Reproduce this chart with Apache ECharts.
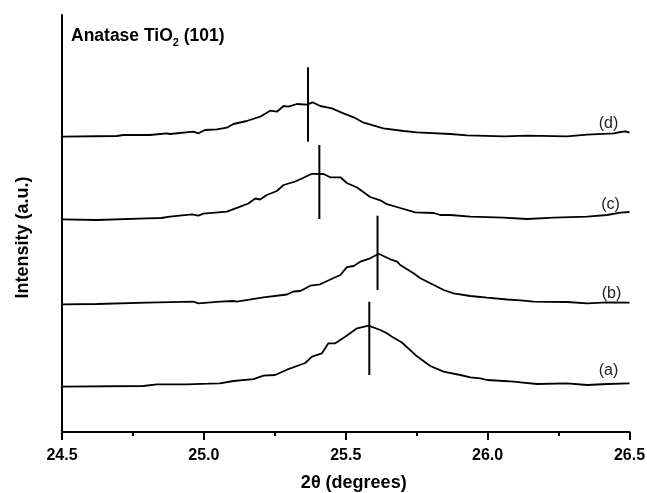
<!DOCTYPE html>
<html>
<head>
<meta charset="utf-8">
<script src="https://cdn.jsdelivr.net/npm/echarts@6/dist/echarts.min.js"></script>
<style>html,body{margin:0;padding:0;background:#fff}#c{width:647px;height:493px}</style>
</head>
<body>
<div id="c"></div>
<script>
// 2θ (degrees) and intensity (a.u., stacked with offsets as in the figure)
var curveA = [[24.50,45.3],[24.787,46],[24.834,47.7],[24.94,47.7],[25.016,48.3],[25.057,48.7],[25.104,51],[25.175,52.8],[25.21,56.3],[25.251,57],[25.293,62.3],[25.357,69],[25.381,75.3],[25.416,78.7],[25.439,88.7],[25.463,88.7],[25.498,95.2],[25.54,103.7],[25.58,106.3],[25.622,102],[25.645,98.7],[25.663,95.3],[25.698,89.5],[25.751,75.7],[25.798,66],[25.845,60.3],[25.857,59.7],[25.904,57],[25.939,54.7],[25.974,53.7],[25.998,52],[26.057,51],[26.092,50.3],[26.116,49.7],[26.174,48],[26.28,48.7],[26.351,47],[26.421,48],[26.50,48.7]];
var curveB = [[24.50,127.7],[24.622,128],[24.799,129.3],[24.963,130.3],[24.981,128.7],[25.057,130.3],[25.104,131],[25.116,130.3],[25.21,134.7],[25.293,137.5],[25.316,140.5],[25.34,141],[25.375,146.3],[25.41,147.7],[25.457,154],[25.481,157],[25.504,164.8],[25.528,166],[25.551,170.3],[25.586,173.7],[25.616,178.3],[25.657,172.7],[25.681,170.3],[25.692,167],[25.739,158.7],[25.763,153.7],[25.798,148.7],[25.833,143.7],[25.845,142],[25.88,138.7],[25.939,136],[25.998,134.3],[26.069,132.5],[26.116,131.7],[26.162,130.3],[26.28,130],[26.351,128.7],[26.421,129.7],[26.50,129.3]];
var curveC = [[24.50,212.7],[24.622,212],[24.799,213.7],[24.85,214],[24.881,215.3],[24.958,217.7],[24.981,216.3],[24.998,218.3],[25.081,220.3],[25.128,225.3],[25.157,228.5],[25.181,233.5],[25.198,232.5],[25.222,237],[25.257,241],[25.281,247],[25.322,250.5],[25.351,254.3],[25.381,258.2],[25.422,258],[25.445,254.7],[25.481,254.7],[25.504,249],[25.54,244.5],[25.586,235],[25.622,231.7],[25.645,227.8],[25.692,224],[25.745,219.7],[25.81,219],[25.833,217],[25.869,217],[25.939,215.3],[26.057,214.3],[26.139,213],[26.233,214.3],[26.351,215.3],[26.421,217],[26.468,219.3],[26.50,220]];
var curveD = [[24.50,295.3],[24.693,296],[24.715,297],[24.81,297],[24.869,298.7],[24.881,298],[24.963,300.3],[24.981,298.7],[25.004,302],[25.046,302.7],[25.081,304.3],[25.104,308],[25.151,311],[25.198,315.3],[25.234,321.3],[25.257,320.3],[25.263,322],[25.281,326],[25.298,325.3],[25.328,328],[25.363,327.3],[25.383,329.7],[25.41,326],[25.451,323.7],[25.492,318.7],[25.528,314.7],[25.563,309.3],[25.633,303.7],[25.704,301],[25.751,299.7],[25.869,298],[25.928,296.7],[26.057,295.7],[26.139,296.3],[26.28,295.7],[26.351,297.3],[26.445,298.7],[26.468,300],[26.486,300.7],[26.50,299.3]];
var curveNames = ['(a)','(b)','(c)','(d)'];
// peak position markers: 2θ, bottom, top
var peakPos = [25.583, 25.612, 25.407, 25.367];
var peakLow = [57, 142, 213, 290.3];
var peakHigh = [130.3, 216.3, 287, 364.7];
var xTicks = [24.5, 25.0, 25.5, 26.0, 26.5];

var curves = [curveA, curveB, curveC, curveD];
var labelOffsets = [[-21,-13],[-18,-9],[-19,-7],[-21,-9]];
var series = [];
curves.forEach(function (d, i) {
  series.push({
    type: 'line', data: d, showSymbol: false, symbol: 'none', silent: true,
    lineStyle: { color: '#000', width: 1.8 },
    endLabel: { show: true, formatter: curveNames[i], color: '#222', fontSize: 16,
      fontFamily: 'Liberation Sans, Arial, sans-serif', align: 'center', verticalAlign: 'middle',
      distance: 0, offset: labelOffsets[i] }
  });
  series.push({
    type: 'line', data: [[peakPos[i], peakLow[i]], [peakPos[i], peakHigh[i]]],
    showSymbol: false, symbol: 'none', silent: true,
    lineStyle: { color: '#000', width: 2 }
  });
});

var chart = echarts.init(document.getElementById('c'), null, { renderer: 'canvas' });
chart.setOption({
  animation: false,
  backgroundColor: '#fff',
  title: {
    text: '{a|Anatase TiO}{s|2}{a| (101)}',
    left: 71, top: 24, padding: 0,
    textStyle: {
      rich: {
        a: { fontSize: 17.5, fontWeight: 'bold', color: '#000', fontFamily: 'Liberation Sans, Arial, sans-serif', lineHeight: 24 },
        s: { fontSize: 11, fontWeight: 'bold', color: '#000', fontFamily: 'Liberation Sans, Arial, sans-serif', verticalAlign: 'bottom', lineHeight: 12 }
      }
    }
  },
  grid: { left: 62, right: 17.5, top: 15, bottom: 61, containLabel: false, outerBoundsMode: 'none' },
  xAxis: {
    type: 'value', min: 24.5, max: 26.5, interval: 0.5,
    name: '2θ (degrees)', nameLocation: 'middle', nameGap: 42,
    nameTextStyle: { fontSize: 18, fontWeight: 'bold', color: '#000', fontFamily: 'Liberation Sans, Arial, sans-serif', padding: [0, 0, 0, 16] },
    axisLine: { show: true, onZero: false, lineStyle: { color: '#000', width: 2 } },
    axisTick: { show: true, inside: false, length: 8, lineStyle: { color: '#000', width: 2 } },
    minorTick: { show: true, splitNumber: 2, length: 4, lineStyle: { color: '#000', width: 2 } },
    splitLine: { show: false },
    axisLabel: { fontSize: 16, fontWeight: 'bold', color: '#000', margin: 16, fontFamily: 'Liberation Sans, Arial, sans-serif',
      formatter: function (v) { return v.toFixed(1); } }
  },
  yAxis: {
    type: 'value', min: 0, max: 417,
    name: 'Intensity (a.u.)', nameLocation: 'middle', nameGap: 30,
    nameTextStyle: { fontSize: 18, fontWeight: 'bold', color: '#000', fontFamily: 'Liberation Sans, Arial, sans-serif', padding: [0, 28, 0, 0] },
    axisLine: { show: true, onZero: false, lineStyle: { color: '#000', width: 2 } },
    axisTick: { show: false },
    axisLabel: { show: false },
    splitLine: { show: false }
  },
  series: series
});
</script>
</body>
</html>
